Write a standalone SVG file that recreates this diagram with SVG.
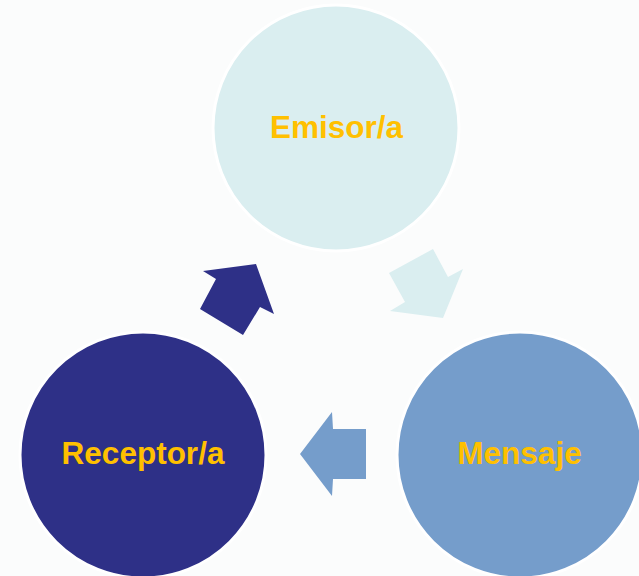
<svg xmlns="http://www.w3.org/2000/svg" width="639" height="576" viewBox="0 0 639 576">
<style>
.node{stroke:#ffffff;stroke-width:3}
.lbl{font-family:"Liberation Sans",Arial,sans-serif;font-weight:bold;font-size:31.5px;fill:#FFC000;text-anchor:middle}
</style>
<rect x="0" y="0" width="639" height="576" fill="#FBFCFC"/>
<g id="connectors">
<polygon points="389,273 433,249 448,277 463,269 443,318 390,311 405,302" fill="#DAEEF0"/>
<polygon points="332,412 333,429 366,429 366,479 333,479 332,496 300,454" fill="#759DCB"/>
<polygon points="203,271 256,264 274,314 260,307 243,335 200,309 216,279" fill="#2E3087"/>
</g>
<g id="emisor">
<circle class="node" cx="336" cy="128" r="123" fill="#DAEEF0"/>
<text class="lbl" x="336.5" y="138">Emisor/a</text>
</g>
<g id="mensaje">
<circle class="node" cx="520" cy="455" r="123" fill="#759DCB"/>
<text class="lbl" x="519.5" y="464">Mensaje</text>
</g>
<g id="receptor">
<circle class="node" cx="143" cy="455" r="123" fill="#2E3087"/>
<text class="lbl" x="143" y="464">Receptor/a</text>
</g>
</svg>
